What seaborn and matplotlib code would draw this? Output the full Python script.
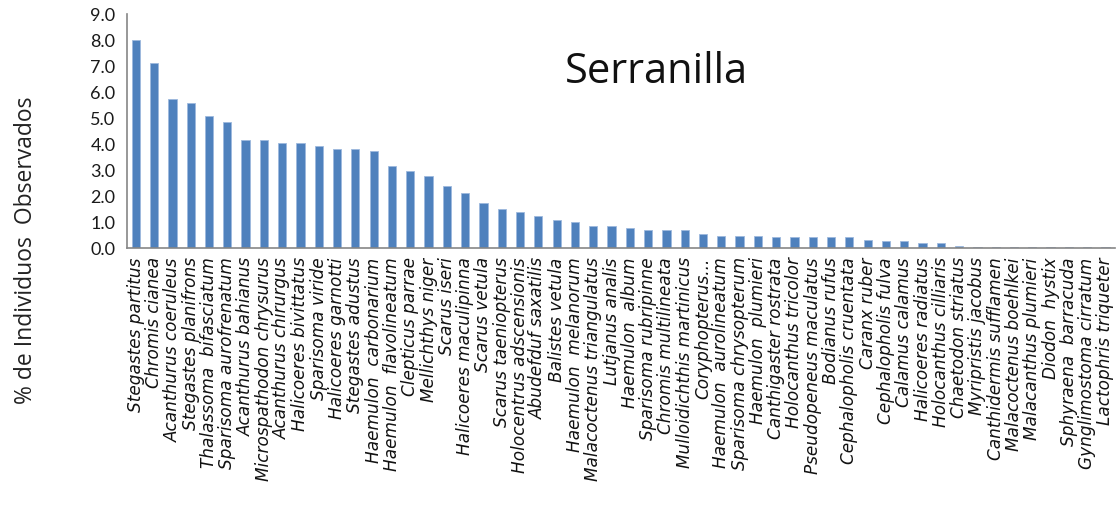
import numpy as np
import pandas as pd
import matplotlib
matplotlib.use("Agg")
import matplotlib.pyplot as plt
import seaborn as sns

species = [
    "Stegastes partitus", "Chromis cianea", "Acanthurus coeruleus", "Stegastes planifrons",
    "Thalassoma  bifasciatum", "Sparisoma aurofrenatum", "Acanthurus bahianus",
    "Microspathodon chrysurus", "Acanthurus chirurgus", "Halicoeres bivittatus",
    "Sparisoma viride", "Halicoeres garnotti", "Stegastes adustus", "Haemulon  carbonarium",
    "Haemulon  flavolineatum", "Clepticus parrae", "Mellichthys niger", "Scarus iseri",
    "Halicoeres maculipinna", "Scarus vetula", "Scarus taeniopterus",
    "Holocentrus adscensionis", "Abudefduf saxatilis", "Balistes vetula",
    "Haemulon  melanorum", "Malacoctenus triangulatus", "Lutjanus analis", "Haemulon  album",
    "Sparisoma rubripinne", "Chromis multilineata", "Mulloidichthis martinicus",
    "Coryphopterus...", "Haemulon  aurolineatum", "Sparisoma chrysopterum",
    "Haemulon  plumieri", "Canthigaster rostrata", "Holocanthus tricolor",
    "Pseudopeneus maculatus", "Bodianus rufus", "Cephalopholis cruentata", "Caranx ruber",
    "Cephalopholis fulva", "Calamus calamus", "Halicoeres radiatus", "Holocanthus cilliaris",
    "Chaetodon striatus", "Myripristis jacobus", "Canthidermis sufflamen",
    "Malacoctenus boehlkei", "Malacanthus plumieri", "Diodon  hystix", "Sphyraena  barracuda",
    "Gynglimostoma cirratum", "Lactophris triqueter",
]
percent = [
    8.0, 7.1, 5.73, 5.58, 5.07, 4.83, 4.17, 4.17, 4.02, 4.02,
    3.94, 3.81, 3.81, 3.73, 3.14, 2.98, 2.76, 2.39, 2.1, 1.73,
    1.51, 1.37, 1.23, 1.08, 0.99, 0.85, 0.85, 0.77, 0.7, 0.7,
    0.7, 0.55, 0.47, 0.47, 0.47, 0.42, 0.42, 0.42, 0.42, 0.42,
    0.32, 0.25, 0.25, 0.18, 0.18, 0.09, 0.03, 0.03, 0.03, 0.03,
    0.03, 0.03, 0.03, 0.03,
]
yticks = [0, 1, 2, 3, 4, 5, 6, 7, 8, 9]
title = "Serranilla"
ylabel = "% de Individuos  Observados"

df = pd.DataFrame({"especie": species, "pct": percent})

sns.set_theme(style="white")
plt.rcParams["font.family"] = ["Open Sans", "DejaVu Sans"]

fig = plt.figure(figsize=(11.18, 5.10), dpi=100)
ax = fig.add_axes([0.1133, 0.5118, 0.8837, 0.4588])

sns.barplot(data=df, x="especie", y="pct", color="#4F81BD", width=0.45,
            saturation=1, edgecolor="#9DB9DE", linewidth=0.6, ax=ax)

gray = "#868686"
ax.set_ylim(0, 9)
ax.set_xlim(-0.5, len(species) - 0.5)
ax.set_yticks(yticks)
ax.set_yticklabels([f"{v:.1f}" for v in yticks], fontsize=13, color="#1a1a1a",
                   family=["Lato"])
ax.set_xticks(range(len(species)))
ax.set_xticklabels(species, rotation=90, fontsize=12.2, fontstyle="italic",
                   family=["DejaVu Sans"], color="#111111")
ax.set_xticks(np.arange(-0.5, len(species), 1), minor=True)
ax.tick_params(axis="x", which="major", length=0, pad=6)
ax.tick_params(axis="x", which="minor", length=6, width=1, color=gray, direction="out")
ax.tick_params(axis="y", which="major", length=5, width=1, color=gray, direction="out", pad=3)
ax.set_xlabel("")
ax.set_ylabel("")
for side in ("top", "right"):
    ax.spines[side].set_visible(False)
for side in ("left", "bottom"):
    ax.spines[side].set_color(gray)
    ax.spines[side].set_linewidth(1.2)

fig.text(656 / 1118, 1 - 72 / 510, title, fontsize=30, ha="center", va="center",
         color="#111111")
fig.text(26 / 1118, 1 - 250 / 510, ylabel, rotation=90, fontsize=16.5, ha="center",
         va="center", color="#222222")

fig.savefig("out.png", dpi=100)
